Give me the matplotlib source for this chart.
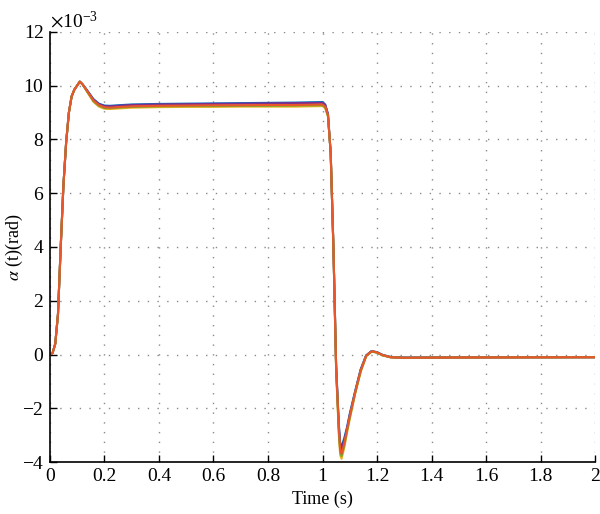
import matplotlib

matplotlib.use("Agg")
import matplotlib.pyplot as plt
from matplotlib.ticker import ScalarFormatter

# Time samples (s)
t = [0, 0.01, 0.02, 0.03, 0.04, 0.05, 0.06, 0.07, 0.08, 0.09, 0.10, 0.11,
     0.12, 0.13, 0.14, 0.16, 0.18, 0.20, 0.22, 0.25, 0.30, 0.40, 0.50, 0.60,
     0.70, 0.80, 0.90, 1.00, 1.01, 1.02, 1.03, 1.04, 1.05, 1.06, 1.065, 1.07,
     1.08, 1.09, 1.10, 1.12, 1.14, 1.16, 1.18, 1.20, 1.22, 1.25, 1.30, 1.50,
     2.00]

# alpha(t) in units of 1e-3 rad, one list per run
alpha_blue = [0, 0.05, 0.4, 1.5, 4.0, 6.3, 7.9, 9.0, 9.6, 9.85, 10.0, 10.15,
              10.05, 9.92, 9.78, 9.5, 9.33, 9.26, 9.25, 9.27, 9.3, 9.32, 9.33,
              9.34, 9.35, 9.36, 9.37, 9.39, 9.3, 8.95, 7.5, 4.0, -0.4, -2.6,
              -3.3, -3.42, -3.1, -2.7, -2.2, -1.35, -0.55, -0.03, 0.13, 0.09,
              -0.01, -0.09, -0.11, -0.1, -0.1]
alpha_purple = [0, 0.05, 0.4, 1.5, 4.0, 6.3, 7.9, 9.0, 9.6, 9.85, 10.0, 10.15,
                10.05, 9.91, 9.77, 9.48, 9.31, 9.24, 9.23, 9.25, 9.28, 9.3,
                9.31, 9.32, 9.33, 9.34, 9.35, 9.36, 9.28, 8.93, 7.5, 4.0,
                -0.45, -2.7, -3.4, -3.52, -3.2, -2.75, -2.25, -1.38, -0.57,
                -0.04, 0.12, 0.08, -0.02, -0.1, -0.12, -0.11, -0.1]
alpha_yellow = [0, 0.05, 0.4, 1.5, 4.0, 6.3, 7.9, 9.0, 9.6, 9.85, 10.0, 10.15,
                10.05, 9.88, 9.72, 9.4, 9.22, 9.14, 9.13, 9.15, 9.18, 9.2,
                9.21, 9.21, 9.22, 9.22, 9.22, 9.24, 9.16, 8.85, 7.5, 4.0,
                -0.6, -3.0, -3.75, -3.88, -3.45, -2.9, -2.4, -1.45, -0.65,
                -0.07, 0.11, 0.07, -0.03, -0.11, -0.13, -0.11, -0.1]
alpha_green = [0, 0.05, 0.4, 1.5, 4.0, 6.3, 7.9, 9.0, 9.6, 9.85, 10.0, 10.15,
               10.05, 9.89, 9.73, 9.42, 9.25, 9.17, 9.16, 9.18, 9.21, 9.23,
               9.24, 9.24, 9.25, 9.25, 9.26, 9.27, 9.19, 8.87, 7.5, 4.0,
               -0.55, -2.9, -3.65, -3.78, -3.38, -2.85, -2.35, -1.42, -0.62,
               -0.06, 0.11, 0.07, -0.03, -0.1, -0.12, -0.11, -0.1]
alpha_orange = [0, 0.05, 0.4, 1.5, 4.0, 6.3, 7.9, 9.0, 9.6, 9.85, 10.0, 10.15,
                10.05, 9.9, 9.75, 9.45, 9.28, 9.2, 9.18, 9.2, 9.23, 9.25,
                9.26, 9.27, 9.27, 9.28, 9.28, 9.3, 9.22, 8.9, 7.5, 4.0, -0.5,
                -2.8, -3.55, -3.7, -3.3, -2.8, -2.3, -1.4, -0.6, -0.05, 0.12,
                0.08, -0.02, -0.1, -0.12, -0.11, -0.1]

runs = [
    (alpha_blue, "#0072bd"),
    (alpha_yellow, "#edb120"),
    (alpha_purple, "#7e2f8e"),
    (alpha_green, "#77ac30"),
    (alpha_orange, "#e8562a"),
]

plt.rcParams["font.family"] = ["Liberation Serif", "DejaVu Serif"]
plt.rcParams["mathtext.fontset"] = "stix"

fig = plt.figure(figsize=(6.0, 5.14), dpi=100)
ax = fig.add_axes([0.083, 0.101, 0.909, 0.837])

for values, color in runs:
    ax.plot(t, [v * 1e-3 for v in values], color=color, lw=1.5)

ax.set_xlim(0, 2)
ax.set_ylim(-4e-3, 12e-3)
ax.set_xticks([0, 0.2, 0.4, 0.6, 0.8, 1, 1.2, 1.4, 1.6, 1.8, 2])
ax.set_xticklabels(["0", "0.2", "0.4", "0.6", "0.8", "1", "1.2", "1.4",
                    "1.6", "1.8", "2"])
ax.set_yticks([v * 1e-3 for v in range(-4, 13, 2)])

fmt = ScalarFormatter(useMathText=True)
fmt.set_powerlimits((-3, -3))
ax.yaxis.set_major_formatter(fmt)
ax.yaxis.get_offset_text().set_fontsize(14)

ax.grid(True, linestyle=(0, (1, 6)), color="#8a8a8a", lw=1.0)
for side in ("top", "right"):
    ax.spines[side].set_visible(False)
ax.spines["left"].set_linewidth(1.2)
ax.spines["bottom"].set_linewidth(1.2)
ax.tick_params(direction="in", length=5, width=1.0, labelsize=14, pad=4)

ax.set_xlabel("Time (s)", fontsize=13)
ax.set_ylabel(r"$\alpha$ (t)(rad)", fontsize=13)
ax.yaxis.set_label_coords(-0.046, 0.5)

fig.savefig("out.png", dpi=100)
